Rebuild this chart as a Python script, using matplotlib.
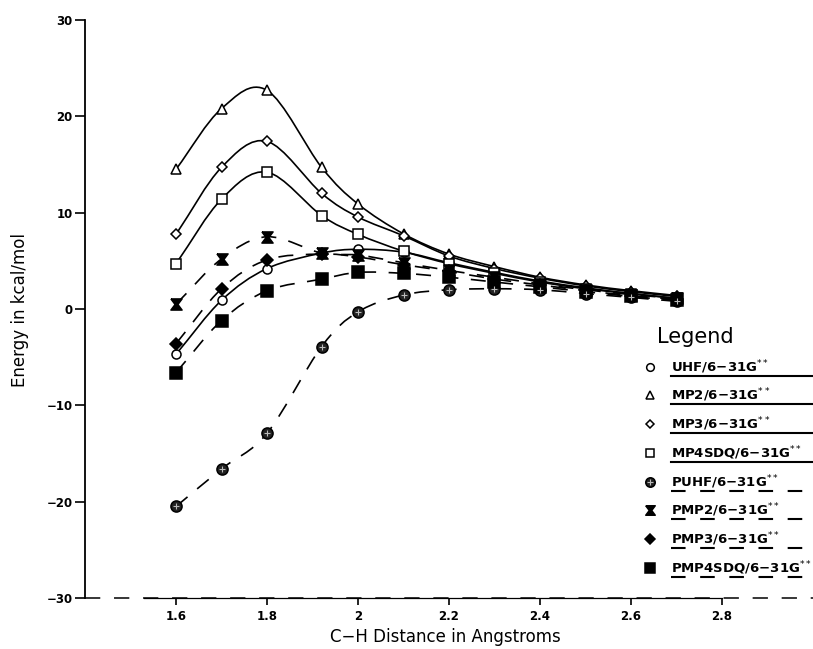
import numpy as np
import matplotlib
matplotlib.use('Agg')
import matplotlib.pyplot as plt
from matplotlib.path import Path
from matplotlib.patches import PathPatch
from matplotlib.lines import Line2D

# C-H distances (Angstrom) and relative energies (kcal/mol)
distancia = [1.6, 1.7, 1.8, 1.92, 2.0, 2.1, 2.2, 2.3, 2.4, 2.5, 2.6, 2.7]

uhf = [-4.7, 0.9, 4.2, 5.8, 6.2, 5.9, 4.8, 3.8, 2.9, 2.2, 1.6, 1.1]
mp2 = [14.5, 20.8, 22.7, 14.7, 10.9, 7.8, 5.7, 4.4, 3.3, 2.5, 1.9, 1.4]
mp3 = [7.75, 14.7, 17.4, 12.0, 9.55, 7.6, 5.5, 4.2, 3.2, 2.4, 1.8, 1.3]
mp4sdq = [4.7, 11.4, 14.2, 9.7, 7.75, 6.0, 4.7, 3.7, 2.8, 2.1, 1.6, 1.1]
puhf = [-20.5, -16.6, -12.9, -3.9, -0.3, 1.45, 2.0, 2.1, 2.0, 1.6, 1.2, 0.8]
pmp2 = [0.5, 5.2, 7.5, 5.8, 5.6, 4.8, 4.0, 3.3, 2.6, 2.0, 1.5, 1.1]
pmp3 = [-3.6, 2.1, 5.1, 5.7, 5.4, 4.6, 3.9, 3.1, 2.5, 1.9, 1.4, 1.0]
pmp4sdq = [-6.6, -1.2, 1.9, 3.1, 3.8, 3.7, 3.3, 2.8, 2.3, 1.8, 1.3, 0.9]

etiquetas = ['UHF', 'MP2', 'MP3', 'MP4SDQ', 'PUHF', 'PMP2', 'PMP3', 'PMP4SDQ']

xticks = [1.6, 1.8, 2.0, 2.2, 2.4, 2.6, 2.8]
yticks = [-30, -20, -10, 0, 10, 20, 30]

W, H = 813, 649
LW = 1.2
DASH = (0, (9.0, 7.5))

# hourglass marker for PMP2
reloj = [(-1, 1), (1, 1), (0.25, 0), (1, -1), (-1, -1), (-0.25, 0), (-1, 1)]

estilos = [
    dict(marker='o', mfc='white', ms=6.5, ls='-'),
    dict(marker='^', mfc='white', ms=7.5, ls='-'),
    dict(marker='D', mfc='white', ms=5, ls='-'),
    dict(marker='s', mfc='white', ms=7.5, ls='-'),
    dict(marker='o', mfc='#222222', ms=8, ls=DASH),
    dict(marker=reloj, mfc='black', ms=8, ls=DASH),
    dict(marker='D', mfc='black', ms=6, ls=DASH),
    dict(marker='s', mfc='black', ms=8.5, ls=DASH),
]


def curva(ax, x, y, ls):
    # smooth Catmull-Rom curve through the points, drawn as bezier path
    p = np.column_stack([x, y]).astype(float)
    p = np.vstack([2 * p[0] - p[1], p, 2 * p[-1] - p[-2]])
    verts = [tuple(p[1])]
    codes = [Path.MOVETO]
    for i in range(1, len(p) - 2):
        c1 = p[i] + (p[i + 1] - p[i - 1]) / 6
        c2 = p[i + 1] - (p[i + 2] - p[i]) / 6
        verts += [tuple(c1), tuple(c2), tuple(p[i + 1])]
        codes += [Path.CURVE4] * 3
    ax.add_patch(PathPatch(Path(verts, codes), fill=False, lw=LW,
                           ls=ls, ec='black', zorder=2))


def px(x, y):
    return x / W, 1 - y / H


fig = plt.figure(figsize=(W / 100, H / 100), dpi=100)
ax = fig.add_axes([85 / W, (H - 598) / H, (W - 85) / W, 578 / H])

series = [uhf, mp2, mp3, mp4sdq, puhf, pmp2, pmp3, pmp4sdq]
for vals, st in zip(series, estilos):
    curva(ax, distancia, vals, st['ls'])
    ax.plot(distancia, vals, ls='none', marker=st['marker'], ms=st['ms'],
            mfc=st['mfc'], mec='black', mew=1.1, zorder=3)
    if st['mfc'] == '#222222':
        ax.plot(distancia, vals, ls='none', marker='+', ms=5, mec='#bbbbbb',
                mew=0.8, zorder=4)

ax.set_xlim(1.4, 3.0)
ax.set_ylim(-30, 30)
ax.set_xticks(xticks)
ax.set_xticklabels(['%g' % t for t in xticks])
ax.set_yticks(yticks)
ax.spines['top'].set_visible(False)
ax.spines['right'].set_visible(False)
ax.spines['bottom'].set_visible(False)
ax.spines['left'].set_linewidth(1.3)
ax.tick_params(axis='y', length=7, width=1.2, labelsize=8.5, pad=2)
ax.tick_params(axis='x', length=5, width=1.2, labelsize=8.5, pad=4)
for t in ax.get_xticklabels() + ax.get_yticklabels():
    t.set_fontweight('bold')

# base line of the x axis
ax.plot([1.4, 3.0], [-30, -30], color='black', lw=1.1, ls=(0, (10, 9)),
        clip_on=False, zorder=1)
ax.plot([1.53, 2.8], [-30, -30], color='black', lw=0.9, clip_on=False, zorder=1)

fig.text(445 / W, 1 - 637 / H, 'C\u2212H Distance in Angstroms', ha='center',
         va='center', fontsize=12)
fig.text(20 / W, 1 - 310 / H, 'Energy in kcal/mol', ha='center', va='center',
         rotation=90, fontsize=12)

# legend block
fig.text(*px(657, 337), 'Legend', ha='left', va='center', fontsize=15)
filas = [367, 395, 424, 453, 482, 510, 539, 568]
for nombre, st, y in zip(etiquetas, estilos, filas):
    mx, my = px(650, y)
    fig.add_artist(Line2D([mx], [my], ls='none', marker=st['marker'],
                          ms=st['ms'] * 0.85, mfc=st['mfc'], mec='black',
                          mew=1.1))
    if st['mfc'] == '#222222':
        fig.add_artist(Line2D([mx], [my], ls='none', marker='+', ms=4,
                              mec='#bbbbbb', mew=0.8))
    fig.text(*px(671, y), nombre + '/6\u221231G$^{**}$', ha='left',
             va='center', fontsize=9.5, fontweight='bold')
    x0, y0 = px(671, y + 9)
    x1, _ = px(813, y + 9)
    ls = '-' if st['ls'] == '-' else (0, (7, 7))
    fig.add_artist(Line2D([x0, x1], [y0, y0], color='black', lw=1.5, ls=ls))

fig.savefig('out.png', dpi=100)
